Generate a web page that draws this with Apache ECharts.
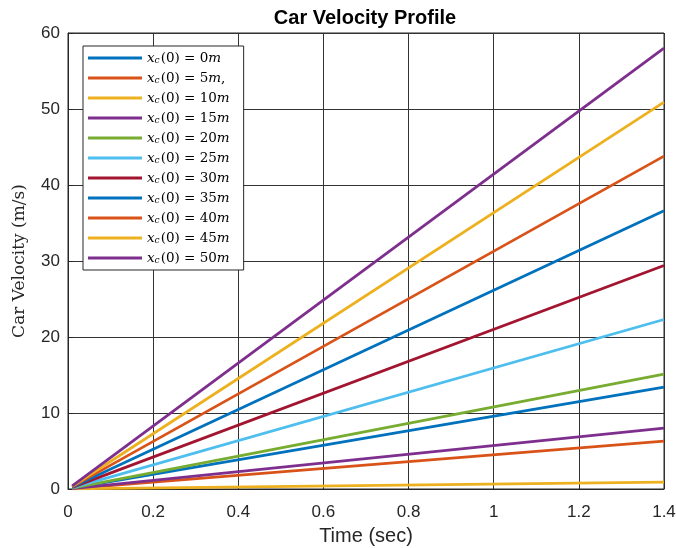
<!DOCTYPE html>
<html>
<head>
<meta charset="utf-8">
<script src="https://cdn.jsdelivr.net/npm/echarts@6/dist/echarts.min.js"></script>
<style>
  html, body { margin: 0; padding: 0; background: #fff; }
  #chart { width: 676px; height: 548px; }
</style>
</head>
<body>
<div id="chart"></div>
<script>
// Initial positions x_c(0) in metres, one line per start position
const startPositions = [0, 5, 10, 15, 20, 25, 30, 35, 40, 45, 50];
const legendSuffix = ['', ',', '', '', '', '', '', '', '', '', ''];
// Time samples (sec)
const timeStart = 0.01;
const timeEnd = 1.4;
// Velocity (m/s) at the first and last time sample
const velStart = [0.10, 0.05, 0.01, 0.06, 0.11, 0.16, 0.21, 0.26, 0.31, 0.36, 0.42];
const velEnd   = [13.4, 6.3, 0.9, 8.0, 15.1, 22.3, 29.4, 36.6, 43.8, 50.9, 58.0];
// Axis ticks
const xTicks = [0, 0.2, 0.4, 0.6, 0.8, 1, 1.2, 1.4];
const yTicks = [0, 10, 20, 30, 40, 50, 60];

const palette = ['#0072BD', '#D95319', '#EDB120', '#7E2F8E', '#77AC30', '#4DBEEE', '#A2142F'];

const series = startPositions.map((p, i) => ({
  name: 'x' + p + legendSuffix[i],
  type: 'line',
  showSymbol: false,
  symbol: 'none',
  lineStyle: { width: 2.8, color: palette[i % palette.length] },
  itemStyle: { color: palette[i % palette.length] },
  data: [[timeStart, velStart[i]], [timeEnd, velEnd[i]]],
  z: 3
}));

const serif = 'DejaVu Serif';
const sans = 'Liberation Sans';

const chart = echarts.init(document.getElementById('chart'), null, { renderer: 'canvas' });
chart.setOption({
  animation: false,
  backgroundColor: '#fff',
  title: {
    text: 'Car Velocity Profile',
    left: 360, top: 3, textAlign: 'center',
    textStyle: { fontFamily: sans, fontWeight: 'bold', fontSize: 20, color: '#000' }
  },
  grid: {
    left: 68, top: 33, width: 596, height: 456,
    outerBoundsMode: 'none',
    containLabel: false,
    show: true, borderColor: '#262626', borderWidth: 1, backgroundColor: '#fff'
  },
  legend: {
    orient: 'vertical',
    left: 83, top: 46,
    backgroundColor: '#fff',
    borderColor: '#262626', borderWidth: 1,
    padding: [4, 14, 4, 5],
    itemWidth: 54, itemHeight: 3,
    itemGap: 4,
    icon: 'rect',
    data: series.map(s => s.name),
    formatter: function (name) {
      const m = name.match(/^x(\d+)(,?)$/);
      return '{i|x}{s|c}{n|(0) = ' + m[1] + '}{i|m}{n|' + m[2] + '}';
    },
    textStyle: {
      fontFamily: serif, fontSize: 13.5, color: '#000', lineHeight: 16,
      rich: {
        i: { fontFamily: serif, fontStyle: 'italic', fontSize: 13.5, color: '#000' },
        s: { fontFamily: serif, fontStyle: 'italic', fontSize: 9, color: '#000', padding: [6, 1, 0, 0] },
        n: { fontFamily: serif, fontSize: 13.5, color: '#000' }
      }
    }
  },
  xAxis: {
    type: 'value',
    min: xTicks[0], max: xTicks[xTicks.length - 1], interval: 0.2,
    name: 'Time (sec)', nameLocation: 'middle', nameGap: 37,
    nameTextStyle: { fontFamily: sans, fontSize: 20, color: '#262626' },
    axisLine: { show: true, lineStyle: { color: '#262626', width: 1 } },
    axisTick: { show: true, inside: true, length: 5, lineStyle: { color: '#262626' } },
    axisLabel: {
      fontFamily: sans, fontSize: 17, color: '#262626', margin: 15,
      formatter: v => String(Math.round(v * 10) / 10)
    },
    splitLine: { show: true, lineStyle: { color: '#333', width: 1 } }
  },
  yAxis: {
    type: 'value',
    min: yTicks[0], max: yTicks[yTicks.length - 1], interval: 10,
    name: 'Car Velocity (m/s)', nameLocation: 'middle', nameGap: 40,
    nameTextStyle: { fontFamily: serif, fontSize: 17, color: '#262626' },
    axisLine: { show: true, lineStyle: { color: '#262626', width: 1 } },
    axisTick: { show: true, inside: true, length: 5, lineStyle: { color: '#262626' } },
    axisLabel: { fontFamily: sans, fontSize: 17, color: '#262626', margin: 8 },
    splitLine: { show: true, lineStyle: { color: '#333', width: 1 } }
  },
  series: series
});
</script>
</body>
</html>
